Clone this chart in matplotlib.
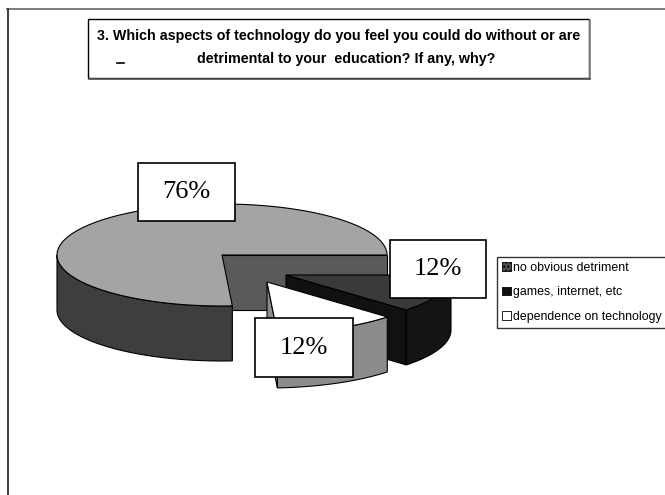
import numpy as np
import matplotlib
matplotlib.use("Agg")
import matplotlib.pyplot as plt
from matplotlib.patches import Polygon, Rectangle, Patch

# data
categories = ["no obvious detriment", "games, internet, etc", "dependence on technology"]
shares = [76, 12, 12]
labels = ["76%", "12%", "12%"]
title_lines = ["3. Which aspects of technology do you feel you could do without or are",
               "detrimental to your  education? If any, why?"]

# pie geometry in pixel units (3d look: squashed ellipse + thickness)
cx, cy = 222, 255
rx, ry = 165, 51
thick = 55
start = 273.6          # first slice starts here and runs clockwise
shift = [(0, 0), (64, 20), (45, 27)]   # exploded slices, pixels

top_col = ["#a4a4a4", "#3a3a3a", "#ffffff"]
side_col = ["#3e3e3e", "#141414", "#8c8c8c"]
cut_col = ["#5a5a5a", "#111111", "#8c8c8c"]

fig = plt.figure(figsize=(6.65, 4.95), dpi=100)
ax = fig.add_axes([0, 0, 1, 1])
ax.set_xlim(0, 665)
ax.set_ylim(495, 0)
ax.axis("off")

# outer frame lines of the scanned page
ax.plot([7, 665], [9, 9], color="#666666", lw=1.2)
ax.plot([8, 8], [9, 495], color="#444444", lw=1.5)


def rim(x0, y0, a):
    a = np.radians(a)
    return x0 + rx * np.cos(a), y0 - ry * np.sin(a)


# slice angles (ccw low/high) from shares, clockwise order
bounds = []
ang = start
for s in shares:
    span = s / sum(shares) * 360
    bounds.append((ang - span, ang))
    ang = ang - span

for i, (lo, hi) in enumerate(bounds):
    x0, y0 = cx + shift[i][0], cy + shift[i][1]

    # radial cut faces
    for a, vis in [(lo, np.cos(np.radians(lo)) > 0), (hi, np.cos(np.radians(hi)) < 0)]:
        if vis:
            px, py = rim(x0, y0, a)
            ax.add_patch(Polygon([(x0, y0), (px, py), (px, py + thick), (x0, y0 + thick)],
                                 closed=True, fc=cut_col[i], ec="black", lw=0.8))

    # outer side, front half only
    l2, h2 = lo % 360, (lo % 360) + (hi - lo)
    a1, a2 = max(l2, 180), min(h2, 360)
    if a2 > a1:
        aa = np.linspace(a1, a2, 80)
        xs, ys = rim(x0, y0, aa)
        pts = list(zip(xs, ys)) + list(zip(xs[::-1], ys[::-1] + thick))
        ax.add_patch(Polygon(pts, closed=True, fc=side_col[i], ec="black", lw=0.8))

    # top face
    aa = np.linspace(lo, hi, 200)
    xs, ys = rim(x0, y0, aa)
    pts = [(x0, y0)] + list(zip(xs, ys))
    ax.add_patch(Polygon(pts, closed=True, fc=top_col[i], ec="black", lw=0.8))

# data label boxes
label_boxes = [(138, 163, 97, 58), (390, 240, 96, 58), (255, 318, 98, 59)]
for (bx, by, bw, bh), txt in zip(label_boxes, labels):
    ax.add_patch(Rectangle((bx, by), bw, bh, fc="white", ec="black", lw=1.2))
    ax.text(bx + bw / 2, by + bh / 2, txt, ha="center", va="center",
            family="Liberation Serif", fontsize=19)

# title box
ax.add_patch(Rectangle((88, 19), 501, 59, fc="white", ec="black", lw=1.0))
ax.plot([589.5, 589.5], [20, 79], color="#888888", lw=1.2)
ax.plot([89, 590], [79, 79], color="#555555", lw=1.2)
ax.text(339, 36, title_lines[0], ha="center", va="center",
        family="Liberation Sans", fontsize=10.3, fontweight="bold")
ax.text(346, 59, title_lines[1], ha="center", va="center",
        family="Liberation Sans", fontsize=10.3, fontweight="bold")
ax.plot([117, 124], [63, 63], color="black", lw=1.2)

# legend
handles = [Patch(fc="#505050", ec="black", hatch="....", lw=0.6),
           Patch(fc="#111111", ec="black", lw=0.6),
           Patch(fc="white", ec="black", lw=0.6)]
leg = ax.legend(handles, categories, loc="upper left",
                bbox_to_anchor=(497 / 665, 1 - 257 / 495), bbox_transform=fig.transFigure,
                frameon=True, fancybox=False, borderpad=0.4, borderaxespad=0,
                handlelength=0.7, handleheight=0.7, handletextpad=0.2,
                labelspacing=1.0, prop={"family": "Liberation Sans", "size": 8.9})
leg.get_frame().set_edgecolor("black")
leg.get_frame().set_linewidth(1.0)

fig.savefig("out.png", dpi=100)
